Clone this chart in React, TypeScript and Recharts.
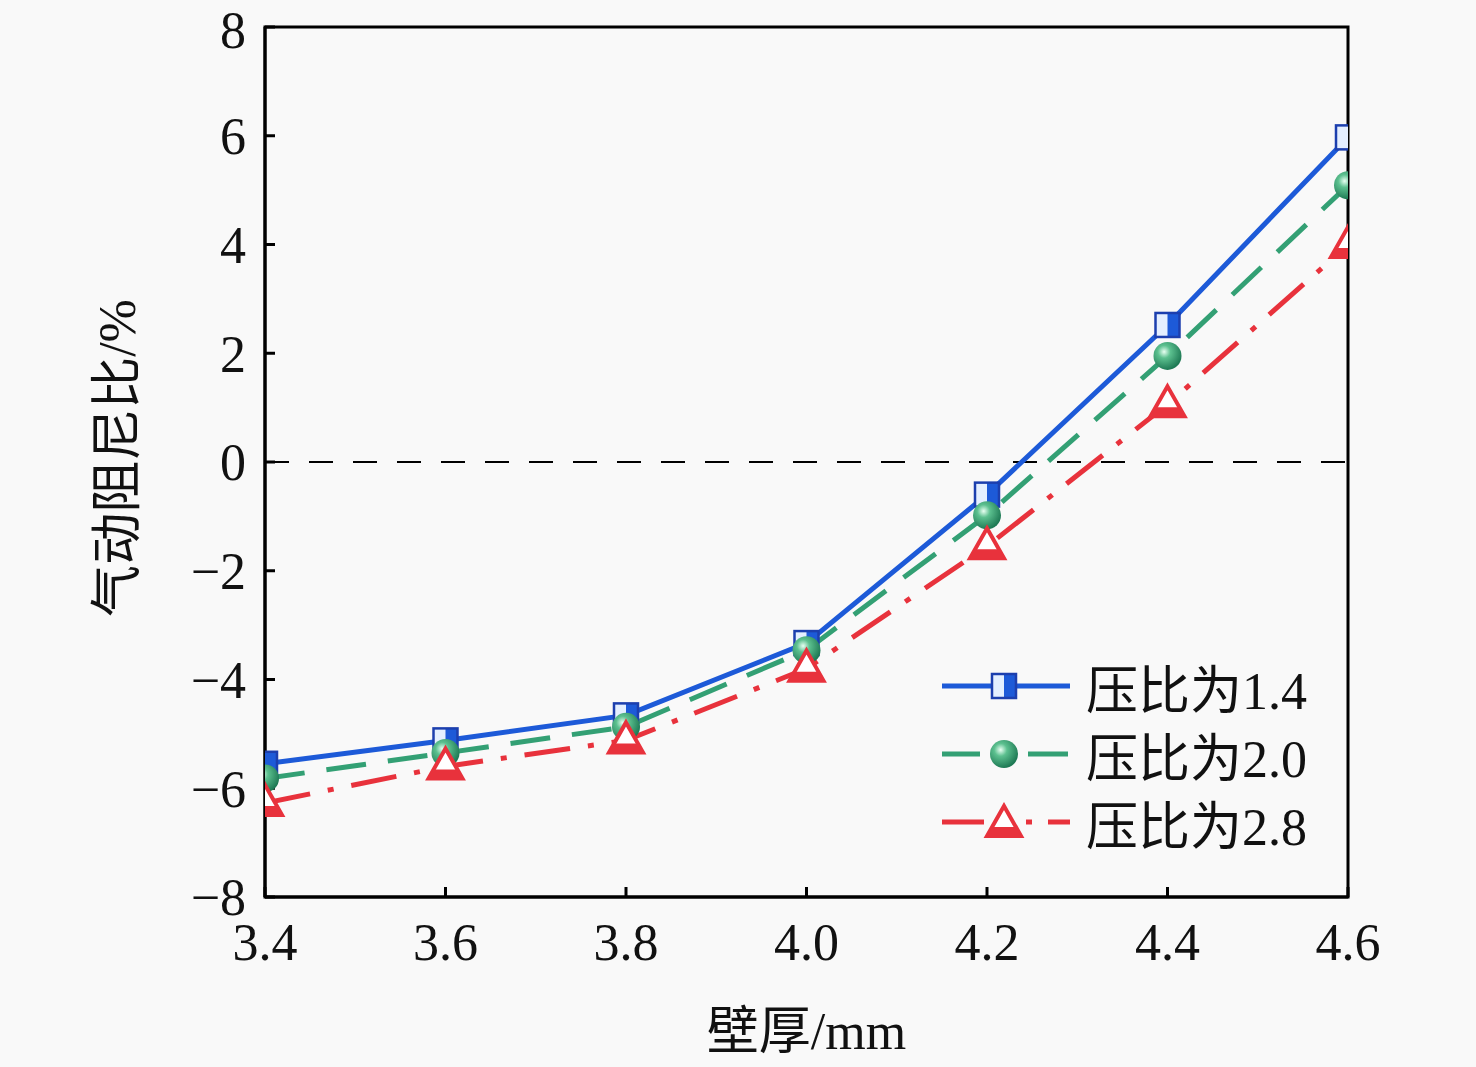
import React from 'react';
import {
  LineChart, Line, XAxis, YAxis, ReferenceLine, ReferenceArea, Legend,
} from 'recharts';

// wall thickness (mm) and aerodynamic damping ratio (%) per pressure ratio
const thickness = [3.4, 3.6, 3.8, 4.0, 4.2, 4.4, 4.6];
const ratio14 = [-5.55, -5.12, -4.66, -3.33, -0.6, 2.52, 5.97];
const ratio20 = [-5.82, -5.35, -4.87, -3.46, -0.98, 1.95, 5.09];
const ratio28 = [-6.27, -5.6, -5.12, -3.8, -1.55, 1.06, 3.99];
const yTicks = [-8, -6, -4, -2, 0, 2, 4, 6, 8];
const seriesNames = ['压比为1.4', '压比为2.0', '压比为2.8'];

const data = thickness.map((t, i) => ({
  t,
  r14: ratio14[i],
  r20: ratio20[i],
  r28: ratio28[i],
}));

const FONT = '"Liberation Serif", "Times New Roman", "Noto Sans CJK SC", serif';
const BLUE = '#1d5ad8';
const GREEN = '#33a074';
const RED = '#e8323c';
const GREEN_DASH = '40 22';
const RED_DASH = '46 18 6 18';

const SquareMark = ({ cx, cy }: { cx: number; cy: number }) => {
  const s = 12;
  return (
    <g>
      <rect x={cx - s} y={cy - s} width={2 * s} height={2 * s} fill="#e4efff" />
      <rect x={cx} y={cy - s} width={s} height={2 * s} fill={BLUE} />
      <rect x={cx - s} y={cy - s} width={2 * s} height={2 * s} fill="none" stroke="#1c3fae" strokeWidth={2.5} />
    </g>
  );
};

const BallMark = ({ cx, cy, gid }: { cx: number; cy: number; gid: string }) => (
  <circle cx={cx} cy={cy} r={14} fill={`url(#${gid})`} />
);

const TriMark = ({ cx, cy }: { cx: number; cy: number }) => {
  const w = 17;
  const h = 30;
  const top = cy - h * 0.6;
  const bot = cy + h * 0.4;
  const band = bot - 9;
  const bw = w * ((band - top) / h);
  return (
    <g>
      <polygon points={`${cx},${top} ${cx + w},${bot} ${cx - w},${bot}`} fill="#fff" stroke={RED} strokeWidth={4} strokeLinejoin="miter" />
      <polygon points={`${cx - bw},${band} ${cx + bw},${band} ${cx + w},${bot} ${cx - w},${bot}`} fill={RED} />
    </g>
  );
};

const GradDefs = ({ id }: { id: string }) => (
  <defs>
    <radialGradient id={id} cx="38%" cy="35%" r="65%">
      <stop offset="0%" stopColor="#e8fff2" />
      <stop offset="35%" stopColor="#5cc08f" />
      <stop offset="100%" stopColor="#1f7a55" />
    </radialGradient>
  </defs>
);

// legend line pieces (x ranges inside the 140px swatch)
const legendSegs: number[][][] = [
  [[2, 130]],
  [[2, 40], [88, 128]],
  [[2, 44], [86, 92], [108, 130]],
];

const LegendBox = () => {
  const colors = [BLUE, GREEN, RED];
  const marks = ['sq', 'ball', 'tri'];
  return (
    <div style={{ fontFamily: FONT, fontSize: 52, color: '#111' }}>
      {colors.map((c, i) => (
        <div key={i} style={{ display: 'flex', alignItems: 'center', height: 68 }}>
          <svg width={140} height={40} style={{ marginRight: 6 }}>
            {marks[i] === 'ball' && <GradDefs id={`lg-ball-${i}`} />}
            {legendSegs[i].map(([a, b], k) => (
              <line key={k} x1={a} y1={20} x2={b} y2={20} stroke={c} strokeWidth={5} />
            ))}
            {marks[i] === 'sq' && <SquareMark cx={64} cy={20} />}
            {marks[i] === 'ball' && <BallMark cx={64} cy={20} gid={`lg-ball-${i}`} />}
            {marks[i] === 'tri' && <TriMark cx={64} cy={22} />}
          </svg>
          <span>{seriesNames[i]}</span>
        </div>
      ))}
    </div>
  );
};

const YTitle = () => (
  <text
    x={117}
    y={458}
    transform="rotate(-90 117 458)"
    textAnchor="middle"
    dominantBaseline="central"
    fill="#111"
    fontSize={52}
    fontFamily={FONT}
  >
    气动阻尼比/%
  </text>
);

export default function App() {
  return (
    <div style={{ position: 'absolute', left: 0, top: 0, width: 1476, height: 1067, background: '#f9f9f9' }}>
      <LineChart
        width={1476}
        height={1067}
        data={data}
        margin={{ top: 27, right: 128, bottom: 0, left: 0 }}
        style={{ fontFamily: FONT }}
      >
        <GradDefs id="ball-grad" />
        <XAxis
          dataKey="t"
          type="number"
          domain={[3.4, 4.6]}
          ticks={thickness}
          allowDataOverflow
          tickFormatter={(v: number) => v.toFixed(1)}
          height={170}
          tickSize={-10}
          tickMargin={36}
          axisLine={{ stroke: '#000', strokeWidth: 3 }}
          tickLine={{ stroke: '#000', strokeWidth: 3 }}
          tick={{ fill: '#111', fontSize: 52, fontFamily: FONT }}
          label={{ value: '壁厚/mm', position: 'insideBottom', offset: 18, fill: '#111', fontSize: 52, fontFamily: FONT }}
        />
        <YAxis
          type="number"
          domain={[-8, 8]}
          ticks={yTicks}
          allowDataOverflow
          width={265}
          tickSize={-10}
          tickMargin={29}
          tickFormatter={(v: number) => (v < 0 ? `\u2212${Math.abs(v)}` : `${v}`)}
          axisLine={{ stroke: '#000', strokeWidth: 3 }}
          tickLine={{ stroke: '#000', strokeWidth: 3 }}
          tick={{ fill: '#111', fontSize: 52, fontFamily: FONT }}
          label={() => <YTitle />}
        />
        <ReferenceArea x1={3.4} x2={4.6} y1={-8} y2={8} fill="none" stroke="#000" strokeWidth={3} />
        <ReferenceLine y={0} stroke="#000" strokeWidth={2} strokeDasharray="24 20" />
        <Line
          dataKey="r14"
          stroke={BLUE}
          strokeWidth={5}
          isAnimationActive={false}
          dot={(p: any) => <SquareMark key={`sq-${p.index}`} cx={p.cx} cy={p.cy} />}
        />
        <Line
          dataKey="r20"
          stroke={GREEN}
          strokeWidth={5}
          strokeDasharray={GREEN_DASH}
          isAnimationActive={false}
          dot={(p: any) => <BallMark key={`b-${p.index}`} cx={p.cx} cy={p.cy} gid="ball-grad" />}
        />
        <Line
          dataKey="r28"
          stroke={RED}
          strokeWidth={5}
          strokeDasharray={RED_DASH}
          isAnimationActive={false}
          dot={(p: any) => <TriMark key={`t-${p.index}`} cx={p.cx} cy={p.cy} />}
        />
        <Legend
          layout="vertical"
          align="center"
          verticalAlign="middle"
          content={() => <LegendBox />}
          wrapperStyle={{ position: 'absolute', left: 940, top: 652, width: 420 }}
        />
      </LineChart>
    </div>
  );
}
